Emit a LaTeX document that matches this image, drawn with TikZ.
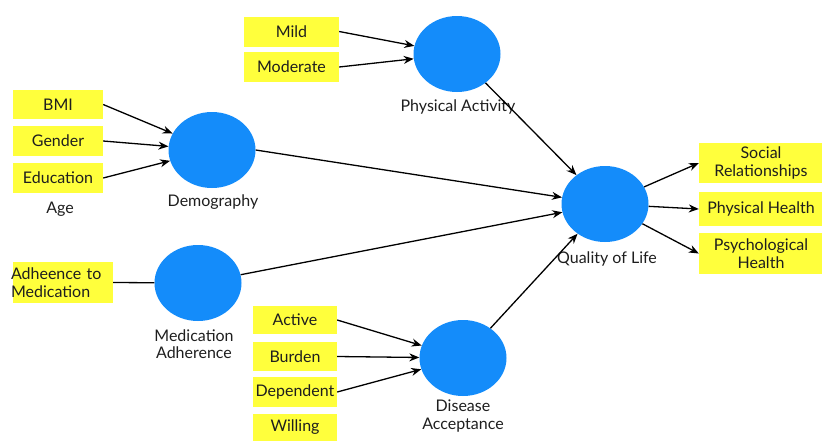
\documentclass[tikz,border=0pt]{standalone}
\usepackage{fontspec}
\setmainfont{Lato}
\usetikzlibrary{shapes.geometric,arrows.meta}
\definecolor{circblue}{RGB}{20,140,250}
\definecolor{boxyellow}{RGB}{255,255,60}
\definecolor{txt}{RGB}{30,30,30}
\tikzset{
  latent/.style={ellipse, fill=circblue, draw=none, minimum width=87pt, minimum height=76pt, inner sep=0pt},
  ind/.style={rectangle, fill=boxyellow, draw=none, inner sep=1pt, text=txt, font=\fontsize{16}{17.5}\selectfont, align=center},
  lbl/.style={font=\fontsize{16}{17.5}\selectfont, text=txt, align=center, inner sep=0pt},
  arr/.style={line width=1.3pt, -{Stealth[length=10pt,width=8pt]}},
  plain/.style={line width=1.3pt}
}
\begin{document}
\begin{tikzpicture}[x=1pt,y=-1pt]
\useasboundingbox (0,0) rectangle (822,440);
% latent circles
\node[latent] (pa) at (457,54) {};
\node[latent] (demo) at (212,150) {};
\node[latent] (medad) at (198,283) {};
\node[latent] (da) at (463,358) {};
\node[latent] (qol) at (605,204) {};
% labels
\node[lbl] (lpa) at (458,107) {Physical Activity};
\node[lbl] (ldemo) at (213,202) {Demography};
\node[lbl] (lage) at (60,209) {Age};
\node[lbl] (lmedad) at (194,344) {Medication\\Adherence};
\node[lbl] (lda) at (463,416) {Disease\\Acceptance};
\node[lbl] (lqol) at (607,259) {Quality of Life};
% indicator boxes
\node[ind, minimum width=95pt, minimum height=30pt] (mild) at (291.5,31.5) {Mild};
\node[ind, minimum width=95pt, minimum height=30pt] (mod) at (291.5,67) {Moderate};
\node[ind, minimum width=90pt, minimum height=29pt] (bmi) at (58,104.5) {BMI};
\node[ind, minimum width=90pt, minimum height=30pt] (gender) at (58,141) {Gender};
\node[ind, minimum width=90pt, minimum height=30pt] (edu) at (58,178) {Education};
\node[ind, minimum width=100pt, minimum height=41pt, align=left, text width=98pt] (adh) at (63,282.5) {\hspace*{-3pt}Adheence to\\\hspace*{-3pt}Medication};
\node[ind, minimum width=84pt, minimum height=28pt] (active) at (295,320) {Active};
\node[ind, minimum width=84pt, minimum height=29pt] (burden) at (295,356.5) {Burden};
\node[ind, minimum width=84pt, minimum height=30pt] (dep) at (295,392) {Dependent};
\node[ind, minimum width=84pt, minimum height=27pt] (will) at (295,427.5) {Willing};
\node[ind, minimum width=124pt, minimum height=40pt] (soc) at (761,163) {Social\\Relationships};
\node[ind, minimum width=124pt, minimum height=34pt] (ph) at (761,209) {Physical Health};
\node[ind, minimum width=124pt, minimum height=41pt] (psy) at (761,253.5) {Psychological\\Health};
% connectors
\draw[arr] (mild.east) -- (pa);
\draw[arr] (mod.east) -- (pa);
\draw[arr] (bmi.east) -- (demo);
\draw[arr] (gender.east) -- (demo);
\draw[arr] (edu.east) -- (demo);
\draw[plain] (adh.east) -- (medad);
\draw[arr] (active.east) -- (da);
\draw[arr] (burden.east) -- (da);
\draw[arr] (dep.east) -- (da);
\draw[arr] (demo.east) -- (qol);
\draw[arr] (medad) -- (qol);
\draw[arr] (pa) -- (qol);
\draw[arr] (da) -- (qol);
\draw[arr] (qol) -- (soc.west);
\draw[arr] (qol) -- (ph.west);
\draw[arr] (qol) -- (psy.west);
\end{tikzpicture}
\end{document}
